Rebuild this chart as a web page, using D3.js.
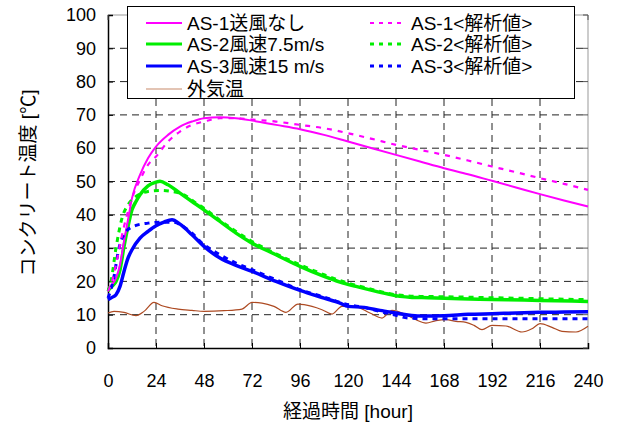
<!DOCTYPE html>
<html>
<head>
<meta charset="utf-8">
<script src="https://cdn.jsdelivr.net/npm/d3@7"></script>
<style>
  body { margin: 0; background: #fff; }
  svg text { font-family: "Liberation Sans", "Noto Sans CJK JP", sans-serif; fill: #000; }
</style>
</head>
<body>
<div id="chart-area"></div>
<script>
// measured (solid) and analysis (dashed) concrete temperatures, plus outdoor temp
var as1Hours = [0,2,4,6,8,10,12,16,20,24,30,36,42,48,56,64,72,84,96,108,120,132,144,156,168,180,192,204,216,228,240];
var as1Temps = [18,19,21,25,32,38.5,45,52,57,60.5,64,66.5,68,69,69.3,69,68.3,67,65.7,64,62,60,58,56,54,52.2,50.2,48.2,46.2,44.3,42.5];
var as1CalcHours = [0,2,4,6,8,10,12,16,20,24,30,36,42,48,56,64,72,84,96,108,120,132,144,156,168,180,192,204,216,228,240];
var as1CalcTemps = [17,20,25,31,36.5,41,45,50.5,55,57.5,62,65,67,68,69,69,68.6,68,67,66,64.5,62.8,61,59.5,58,56.3,54.5,52.8,51,49.3,47.5];

var as2Hours = [0,2,4,6,8,10,12,14,16,20,24,26,30,36,42,48,56,64,72,84,96,108,116,124,132,140,146,152,160,176,192,208,224,240];
var as2Temps = [17.3,18.5,20,23.5,30.5,36.5,41.5,44,46,48.7,49.8,50.1,49,46.5,44,41.5,38,34.5,31.5,28,24.5,21.5,19.8,18.5,17.3,16.2,15.5,15.2,15.1,14.8,14.6,14.4,14.2,14];
var as2CalcHours = [0,1.5,4,7,10,14,20,26,32,38,44,48,56,64,72,84,96,108,120,132,144,156,168,192,216,240];
var as2CalcTemps = [17,20,30,39,43,45.5,47,47.3,47,46,43.5,42,38.3,35,32,28.3,25,22,19.5,17.6,16,15.5,15.4,15.1,14.8,14.5];

var as3Hours = [0,2,4,6,8,10,12,16,20,24,28,32,36,42,48,56,64,72,84,96,108,116,120,128,136,144,150,156,168,180,192,204,216,228,240];
var as3Temps = [14.5,15.2,16,18.5,23,27,29.5,33,35,36.7,37.8,38.5,37.2,34,30.5,27,24.8,23,20,17.3,15,13.5,12.5,12.2,11.3,10.5,9.9,9.6,9.7,10.1,10.3,10.5,10.7,10.8,10.9];
var as3CalcHours = [0,2.5,5.5,9,14,20,26,32,40,48,56,64,72,84,96,108,120,128,136,144,150,160,180,200,220,240];
var as3CalcTemps = [15,20,30,35,36.8,37.5,37.8,37.8,35.5,31,28,25.5,23.5,20.5,17.5,15.3,13,12.2,11,9.8,9,8.8,8.8,8.8,8.8,8.8];

var airHours = [0,3,8,14,18,23,27,35,42,48,58,67,72,77,83,89,95,102,107,112,117,123,131,137,142,149,154,159,164,169,174,179,183,187,192,199,207,212,216,222,227,234,240];
var airTemps = [10.5,11,10.7,9.7,11,13.7,12.7,11.7,11.3,11,11.2,11.7,13.7,13.5,12.5,10.7,13.2,12.5,11.5,10.2,12.5,12.5,10.5,9,11.3,10,8.5,7.5,8.2,8.5,8,7.7,6.8,5.5,6.8,6.6,4.8,5.8,7.3,6.2,5,4.8,6.5];

var xTicks = [0,24,48,72,96,120,144,168,192,216,240];
var yTicks = [0,10,20,30,40,50,60,70,80,90,100];

var series = [
  {name: "AS-1送風なし", hours: as1Hours, temps: as1Temps, color: "#ff00ff", width: 2, dash: null},
  {name: "AS-2風速7.5m/s", hours: as2Hours, temps: as2Temps, color: "#00ee00", width: 3.5, dash: null},
  {name: "AS-3風速15 m/s", hours: as3Hours, temps: as3Temps, color: "#0000ff", width: 3.5, dash: null},
  {name: "外気温", hours: airHours, temps: airTemps, color: "#ad4a22", width: 1.2, dash: null},
  {name: "AS-1<解析値>", hours: as1CalcHours, temps: as1CalcTemps, color: "#ff00ff", width: 2.2, dash: "5,6"},
  {name: "AS-2<解析値>", hours: as2CalcHours, temps: as2CalcTemps, color: "#00ee00", width: 3, dash: "5,5"},
  {name: "AS-3<解析値>", hours: as3CalcHours, temps: as3CalcTemps, color: "#0000ff", width: 3, dash: "5,5"}
];

var margin = {top: 15, right: 31, bottom: 77, left: 108};
var width = 619 - margin.left - margin.right;
var height = 425 - margin.top - margin.bottom;

var svg = d3.select("#chart-area").append("svg").attr("width", 619).attr("height", 425);
var g = svg.append("g").attr("transform", "translate(" + margin.left + "," + margin.top + ")");

var x = d3.scaleLinear().domain([0, 240]).range([0, width]);
var y = d3.scaleLinear().domain([0, 100]).range([height, 0]);

// grid
g.selectAll(".hgrid").data(yTicks.filter(d => d > 0 && d < 100)).enter().append("line")
  .attr("x1", 0).attr("x2", width)
  .attr("y1", d => y(d)).attr("y2", d => y(d))
  .attr("stroke", "#222").attr("stroke-width", 1).attr("stroke-dasharray", "7,5");
g.selectAll(".vgrid").data(xTicks.filter(d => d > 0 && d < 240)).enter().append("line")
  .attr("y1", 0).attr("y2", height)
  .attr("x1", d => x(d)).attr("x2", d => x(d))
  .attr("stroke", "#222").attr("stroke-width", 1).attr("stroke-dasharray", "7,5");

// frame: top/right gray, left/bottom black
g.append("line").attr("x1", 0).attr("x2", width).attr("y1", 0).attr("y2", 0).attr("stroke", "#999");
g.append("line").attr("x1", width).attr("x2", width).attr("y1", 0).attr("y2", height).attr("stroke", "#999");

var yAxis = d3.axisLeft(y).tickValues(yTicks).tickSize(-5).tickPadding(12);
var yAxisG = g.append("g").call(yAxis);
var xAxis = d3.axisBottom(x).tickValues(xTicks).tickSize(-5).tickPadding(26);
var xAxisG = g.append("g").attr("transform", "translate(0," + height + ")").call(xAxis);
[yAxisG, xAxisG].forEach(a => {
  a.select(".domain").attr("stroke", "#000").attr("stroke-width", 1.5);
  a.selectAll(".tick line").attr("stroke", "#000");
  a.selectAll("text").attr("font-size", "18px").style("font-family", "'Liberation Sans', sans-serif");
});
// right and top inward ticks
g.selectAll(".rtick").data(yTicks).enter().append("line")
  .attr("x1", width).attr("x2", width - 5).attr("y1", d => y(d)).attr("y2", d => y(d)).attr("stroke", "#555");
g.selectAll(".ttick").data(xTicks).enter().append("line")
  .attr("y1", 0).attr("y2", 5).attr("x1", d => x(d)).attr("x2", d => x(d)).attr("stroke", "#555");

// lines
var line = d3.line().x(d => x(d[0])).y(d => y(d[1])).curve(d3.curveMonotoneX);
var drawOrder = [3, 2, 1, 0, 6, 5, 4];
drawOrder.forEach(i => {
  var s = series[i];
  g.append("path")
    .datum(s.hours.map((h, j) => [h, s.temps[j]]))
    .attr("fill", "none")
    .attr("stroke", s.color)
    .attr("stroke-width", s.width)
    .attr("stroke-dasharray", s.dash)
    .attr("stroke-linejoin", "round")
    .attr("d", line);
});

// axis titles
svg.append("text").attr("x", margin.left + width / 2).attr("y", 418)
  .attr("text-anchor", "middle").attr("font-size", "19px").text("経過時間 [hour]");
svg.append("text").attr("transform", "translate(35,183) rotate(-90)")
  .attr("text-anchor", "middle").attr("font-size", "19px").text("コンクリート温度 [℃]");

// legend
var legend = svg.append("g");
legend.append("rect").attr("x", 127.5).attr("y", 6.5).attr("width", 447).attr("height", 92)
  .attr("fill", "#fff").attr("stroke", "#000").attr("stroke-width", 1);
var rowY = [23, 44, 66, 89];
series.forEach((s, i) => {
  var col = i < 4 ? 0 : 1;
  var row = i < 4 ? i : i - 4;
  var lx = col === 0 ? 146 : 370;
  legend.append("line")
    .attr("x1", lx).attr("x2", lx + 36).attr("y1", rowY[row]).attr("y2", rowY[row])
    .attr("stroke", i === 3 ? "#c8896a" : s.color)
    .attr("stroke-width", Math.min(s.width, 3))
    .attr("stroke-dasharray", s.dash ? "4,5" : null);
  legend.append("text").attr("x", lx + 41).attr("y", rowY[row]).attr("dy", "0.36em")
    .attr("font-size", "19px").text(s.name);
});
</script>
</body>
</html>
